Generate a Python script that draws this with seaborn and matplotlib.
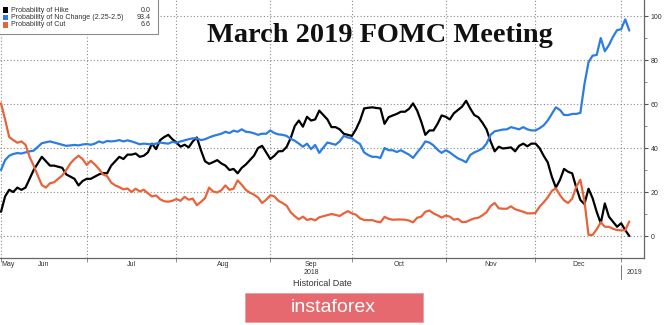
import numpy as np
import pandas as pd
import matplotlib
matplotlib.use("Agg")
import matplotlib.pyplot as plt
import seaborn as sns
from matplotlib.patches import Rectangle

# ---------------- data ----------------
start_date = "2018-06-01"
end_date = "2019-01-03"

hike = [
    11, 18, 21, 20, 22, 21, 22, 26, 30, 33,
    36, 34, 32, 32, 31.5, 31, 28, 27, 26, 23,
    25, 26, 26, 27, 28, 28.6, 28.5, 32, 34, 36,
    35, 37, 37, 37.5, 36, 36.5, 38, 42, 39.5, 43.6,
    45, 46, 44, 42.5, 40.6, 41.5, 40.3, 43, 44.8, 39,
    34, 32.8, 33.6, 34.5, 33, 32, 30, 30.5, 28.5, 31,
    32.5, 34.5, 36.5, 40, 41, 38, 35, 36.5, 38.5, 38.6,
    40.5, 44.5, 50, 52.5, 49.7, 54.2, 52.5, 53, 57, 55,
    53, 49.5, 49.5, 48.5, 46.5, 46, 45.5, 48.5, 52.5, 58,
    58.3, 58.5, 58.2, 58, 51, 54, 54.8, 55.5, 56.5, 56.5,
    57.8, 60.3, 57, 52, 46, 48, 48, 51, 54.8, 54.2,
    53, 55.8, 57.3, 58.8, 61.5, 58, 55, 54, 51.5, 48.5,
    43, 38.5, 40.6, 39.8, 40, 40.3, 38.5, 41, 42, 40.8,
    42, 42, 40, 36.5, 33.5, 27, 22, 25.5, 30.5, 29.2,
    28.5, 22, 16.4, 14.5, 21.5, 17.2, 11, 5.8, 14.8, 8.8,
    6.5, 4.2, 5.8, 2.7, 0.0,
]

no_change = [
    30, 34.5, 36.5, 37.3, 37.7, 37.5, 38, 38.5, 38.8, 40.5,
    42.2, 42.6, 43, 42.5, 42, 41.5, 41, 41.2, 41.4, 41.2,
    41.6, 41.8, 41.5, 42, 43, 42.4, 43.2, 43, 43.2, 43.6,
    43, 43.5, 43, 42.4, 41.7, 42, 41.8, 41.7, 42, 42.5,
    42.2, 42, 42.8, 42.4, 43, 43.5, 44, 44.4, 44.4, 43.6,
    44, 44.8, 45.5, 46, 46.5, 47.4, 46.8, 47.9, 47.4, 48.5,
    47.4, 47.2, 46.7, 46, 46.5, 46.5, 48, 46.8, 46.2, 46,
    45.5, 44.2, 43.3, 42, 40.6, 42, 39.5, 41.4, 37.8, 40.2,
    42.5, 42, 41.5, 43, 45.5, 44.8, 44.4, 43, 41.8, 38,
    36.8, 36, 36, 35.5, 40, 39, 39, 38.2, 39, 38,
    37, 35.5, 38, 40.2, 43, 42.5, 41.2, 39.2, 37.8, 39,
    38, 36.6, 35.3, 34.5, 33.5, 36.8, 38, 38.8, 39.8, 42,
    46, 47.6, 48, 48.4, 48.5, 49.5, 49, 48.5, 49.5, 48.5,
    48, 48, 49, 50.3, 52.5, 55.5, 58.5, 57.3, 55, 55,
    55.5, 55.5, 56, 69, 79, 82, 82.3, 90, 84, 86.8,
    90.6, 93.6, 94, 98.5, 93.4,
]

cut = [
    60.3, 53, 45, 43.6, 42.4, 43, 41.5, 36, 32, 27.5,
    23.2, 22, 24, 24.4, 26, 27.5, 30, 33, 35, 36.5,
    35, 32.3, 34.2, 32.5, 30.5, 28, 27.2, 24.3, 23, 22.2,
    21.2, 21.6, 20, 21.5, 20.3, 21, 19.4, 18, 18.4, 16.7,
    15.8, 15.6, 16, 16.8, 16, 17.8, 16.5, 17, 14, 15.5,
    17.2, 22, 20.2, 19.8, 20.8, 23, 21, 21.5, 25.3, 23.3,
    21, 19.7, 18.8, 17.5, 15, 16.5, 18.5, 18, 16, 15,
    13.8, 10.8, 9, 7.6, 8.8, 7.3, 7.8, 7.1, 8.5, 9,
    9.5, 10, 9.6, 9.1, 10.3, 11.3, 10.3, 9.7, 8, 7.3,
    7.2, 7.2, 6.6, 6.2, 8.7, 7.8, 7.4, 7.5, 7.5, 7.4,
    7, 6.2, 8.3, 8.8, 11, 11.6, 10.3, 9.4, 8.4, 9.3,
    8.8, 7.4, 7.8, 6.3, 6.4, 7.3, 8, 8.3, 9.4, 10.8,
    13.6, 15, 12.6, 12.4, 12.4, 13.5, 12.2, 11.6, 11, 10.3,
    10.3, 10.5, 13.3, 15.3, 17.5, 20.5, 21.7, 18.6, 16.2, 15,
    17, 22.4, 25.6, 16, 0.5, 0.5, 3, 6.3, 4.2, 4.2,
    3.3, 2.7, 2.6, 2.6, 6.6,
]

series_names = ["Probability of Hike",
                "Probability of No Change (2.25-2.5)",
                "Probability of Cut"]
series_colors = ["#000000", "#2b7de1", "#e8633a"]

month_starts = ["2018-06-01", "2018-07-01", "2018-08-01", "2018-09-01",
                "2018-10-01", "2018-11-01", "2018-12-01", "2019-01-01"]
month_labels = ["Jun", "Jul", "Aug", "Sep", "Oct", "Nov", "Dec"]
first_label = "May"
year_labels = ["2018", "2019"]
y_ticks = [0, 20, 40, 60, 80, 100]
y_minor = [10, 30, 50, 70, 90]
title_text = "March 2019 FOMC Meeting"
xlabel_text = "Historical Date"
brand_text = "instaforex"

# ---------------- build frame ----------------
dates = pd.bdate_range(start_date, end_date)
start64 = np.datetime64(start_date)
day_idx = np.busday_count(start64, dates.values.astype("datetime64[D]"))
series_values = [hike, no_change, cut]
df = pd.DataFrame({
    "day": np.tile(day_idx, len(series_names)),
    "value": np.concatenate([np.asarray(v, float) for v in series_values]),
    "series": np.repeat(series_names, len(dates)),
})

month_pos = np.busday_count(start64, np.array(month_starts, dtype="datetime64[D]"))
label_pos = (month_pos[:-1] + month_pos[1:]) / 2.0

# ---------------- style ----------------
sns.set_theme(style="white")
plt.rcParams["font.family"] = ["Liberation Sans", "DejaVu Sans"]

W, H = 665, 325
fig = plt.figure(figsize=(W / 100, H / 100), dpi=100)
fig.patch.set_facecolor("white")
ax = fig.add_axes([0, 1 - 258 / H, 644 / W, 258 / H])
ax.set_facecolor("white")

sns.lineplot(data=df, x="day", y="value", hue="series",
             hue_order=series_names,
             palette=dict(zip(series_names, series_colors)),
             estimator=None, linewidth=1.6, legend=False, ax=ax, zorder=3)

ax.set_xlim(-0.25, 157.6)
ax.set_ylim(-10, 107.3)

# grid
grid_kw = dict(color="#8a8a8a", linestyle=(0, (1, 2)), linewidth=0.8)
ax.set_xticks(month_pos)
ax.set_xticklabels([""] * len(month_pos))
ax.set_xticks(label_pos, minor=True)
ax.set_xticklabels(month_labels, minor=True)
ax.set_yticks(y_ticks)
ax.set_yticks(y_minor, minor=True)
ax.grid(True, which="major", **grid_kw)
ax.set_axisbelow(True)
ax.set_xlabel("")
ax.set_ylabel("")

ax.yaxis.tick_right()
for s in ["left", "top"]:
    ax.spines[s].set_visible(False)
for s in ["right", "bottom"]:
    ax.spines[s].set_visible(True)
    ax.spines[s].set_color("#666666")
    ax.spines[s].set_linewidth(0.9)

ax.tick_params(axis="x", which="major", length=3, width=0.6, color="#777777",
               direction="out", bottom=True)
ax.tick_params(axis="x", which="minor", length=0, pad=2, labelsize=5,
               labelcolor="#333333", bottom=True)
ax.tick_params(axis="y", which="major", length=3, width=0.8, color="#555555",
               direction="out", right=True, left=False, labelright=True,
               labelleft=False, labelsize=5, labelcolor="#333333", pad=2)
ax.tick_params(axis="y", which="minor", length=2, width=0.6, color="#777777",
               direction="out", right=True, left=False)

# extra axis texts
xtr = ax.get_xaxis_transform()
ax.annotate(first_label, xy=(0, 0), xycoords=xtr, xytext=(0, -2),
            textcoords="offset points", ha="left", va="top",
            fontsize=5, color="#333333", annotation_clip=False)
ax.annotate(year_labels[0], xy=(label_pos[3], 0), xycoords=xtr, xytext=(0, -8),
            textcoords="offset points", ha="center", va="top",
            fontsize=5, color="#333333", annotation_clip=False)
ax.annotate(year_labels[1], xy=(month_pos[-1] + 1.3, 0), xycoords=xtr,
            xytext=(0, -8), textcoords="offset points", ha="left", va="top",
            fontsize=5, color="#333333", annotation_clip=False)
ax.plot([month_pos[-1], month_pos[-1]], [-0.027, -0.081], transform=xtr,
        clip_on=False, color="#777777", lw=0.7)
ax.annotate(xlabel_text, xy=(0.5, 0), xycoords="axes fraction", xytext=(0, -15),
            textcoords="offset points", ha="center", va="top",
            fontsize=6.5, color="#333333", annotation_clip=False)

# title
fig.text(380 / W, 1 - 42 / H, title_text, ha="center", va="baseline",
         fontsize=20.4, fontweight="bold", family=["Liberation Serif", "DejaVu Serif"],
         color="#111111", zorder=6)

# legend box (top-left)
fig.add_artist(Rectangle((-1 / W, 1 - 34 / H), 159 / W, 36 / H,
                         transform=fig.transFigure, facecolor="white",
                         edgecolor="#8c8c8c", linewidth=0.8, zorder=7))
row_y = [10, 17.5, 25]
for name, col, vals, yy in zip(series_names, series_colors, series_values, row_y):
    fig.add_artist(Rectangle((3.3 / W, 1 - (yy + 2.6) / H), 5 / W, 5.2 / H,
                             transform=fig.transFigure, facecolor=col,
                             edgecolor="none", zorder=8))
    fig.text(11 / W, 1 - yy / H, name, ha="left", va="center", fontsize=5.1,
             color="#333333", zorder=8)
    fig.text(151 / W, 1 - yy / H, f"{vals[-1]:.1f}", ha="right", va="center",
             fontsize=5.1, color="#333333", zorder=8)

# brand box
fig.add_artist(Rectangle((245 / W, 1 - 322 / H), 178 / W, 29 / H,
                         transform=fig.transFigure, facecolor="#e5696e",
                         edgecolor="#ec9a9c", linewidth=0.6, zorder=7))
fig.text(333 / W, 1 - 307 / H, brand_text, ha="center", va="center",
         fontsize=14, color="white",
         family=["Liberation Sans Narrow", "Liberation Sans"], zorder=8)

fig.savefig("out.png", dpi=100, facecolor="white")
